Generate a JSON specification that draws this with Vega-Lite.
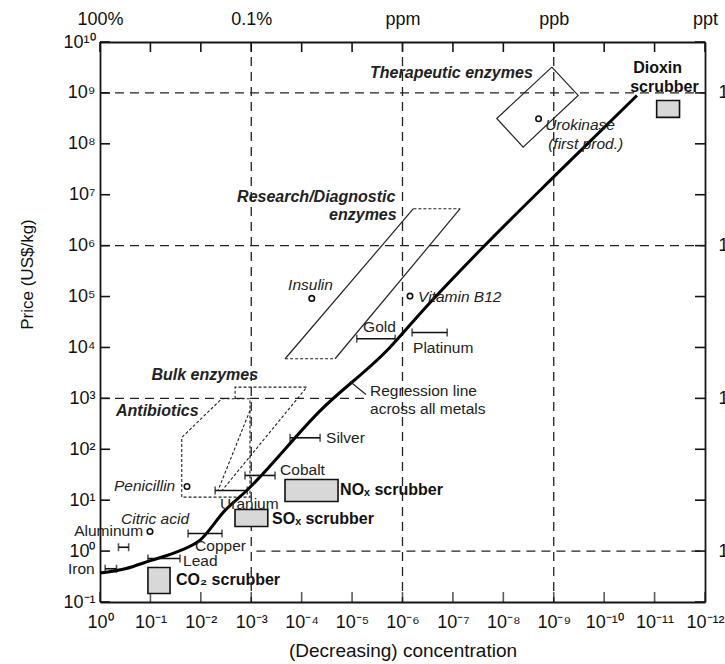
{
  "$schema": "https://vega.github.io/schema/vega-lite/v6.json",
  "width": 605,
  "height": 560,
  "autosize": {"type": "none"},
  "padding": {"left": 100, "top": 42, "right": 20, "bottom": 62},
  "background": "white",
  "config": {
    "view": {"stroke": null},
    "font": "Liberation Sans",
    "axis": {
      "domainColor": "#151515", "domainWidth": 1.8, "ticks": false,
      "labelColor": "#111", "titleColor": "#111", "labelFontSize": 18, "titleFontSize": 18,
      "titleFontWeight": "normal", "grid": false, "labelFlush": false, "labelOverlap": false,
      "labelFont": "Liberation Sans", "titleFont": "Liberation Sans"
    }
  },
  "datasets": {
    "decadesX": [{"c": 1}, {"c": 0.1}, {"c": 0.01}, {"c": 0.001}, {"c": 1e-4}, {"c": 1e-5}, {"c": 1e-6}, {"c": 1e-7}, {"c": 1e-8}, {"c": 1e-9}, {"c": 1e-10}, {"c": 1e-11}, {"c": 1e-12}],
    "decadesY": [{"p": 0.1}, {"p": 1}, {"p": 10}, {"p": 100}, {"p": 1000}, {"p": 1e4}, {"p": 1e5}, {"p": 1e6}, {"p": 1e7}, {"p": 1e8}, {"p": 1e9}, {"p": 1e10}],
    "gridX": [{"c": 1e-3}, {"c": 1e-6}, {"c": 1e-9}],
    "gridY": [
      {"p": 1, "c1": 7.9e-4, "c2": 1e-12},
      {"p": 1e3, "c1": 1, "c2": 5.0e-6},
      {"p": 1e6, "c1": 1, "c2": 1e-12},
      {"p": 1e9, "c1": 1, "c2": 1e-12}
    ],
    "curve": [
      {"c": 1, "p": 0.37}, {"c": 0.316, "p": 0.45}, {"c": 0.1, "p": 0.65}, {"c": 0.0257, "p": 1.02},
      {"c": 0.0105, "p": 1.62}, {"c": 0.00331, "p": 6.3}, {"c": 0.00123, "p": 15.5},
      {"c": 4.27e-5, "p": 575}, {"c": 1.78e-6, "p": 1.0e4}, {"c": 3.9e-7, "p": 5.4e4},
      {"c": 2.9e-8, "p": 8.1e5}, {"c": 7.4e-10, "p": 3.0e7}, {"c": 2.24e-11, "p": 8.9e8}
    ],
    "leader": [{"c": 1.1e-5, "p": 2150}, {"c": 5.3e-6, "p": 1193}],
    "solidPaths": [
      {"shape": "therapeutic", "i": 0, "c": 1.09e-9, "p": 3.21e9},
      {"shape": "therapeutic", "i": 1, "c": 3.28e-10, "p": 8.93e8},
      {"shape": "therapeutic", "i": 2, "c": 4.05e-9, "p": 8.61e7},
      {"shape": "therapeutic", "i": 3, "c": 1.35e-8, "p": 3.15e8},
      {"shape": "therapeutic", "i": 4, "c": 1.09e-9, "p": 3.21e9},
      {"shape": "researchLeft", "i": 0, "c": 2.13e-4, "p": 6.0e3},
      {"shape": "researchLeft", "i": 1, "c": 6.08e-7, "p": 5.31e6},
      {"shape": "researchRight", "i": 0, "c": 2.17e-5, "p": 6.0e3},
      {"shape": "researchRight", "i": 1, "c": 7.19e-8, "p": 5.31e6}
    ],
    "dottedPaths": [
      {"shape": "researchTop", "i": 0, "c": 6.08e-7, "p": 5.31e6},
      {"shape": "researchTop", "i": 1, "c": 7.19e-8, "p": 5.31e6},
      {"shape": "researchBottom", "i": 0, "c": 2.13e-4, "p": 6.0e3},
      {"shape": "researchBottom", "i": 1, "c": 2.17e-5, "p": 6.0e3},
      {"shape": "antibiotics", "i": 0, "c": 3.85e-3, "p": 982},
      {"shape": "antibiotics", "i": 1, "c": 1.06e-3, "p": 982},
      {"shape": "antibiotics", "i": 2, "c": 1.06e-3, "p": 11.5},
      {"shape": "antibiotics", "i": 3, "c": 2.39e-2, "p": 11.5},
      {"shape": "antibiotics", "i": 4, "c": 2.39e-2, "p": 171},
      {"shape": "antibiotics", "i": 5, "c": 3.85e-3, "p": 982},
      {"shape": "bulk", "i": 0, "c": 2.09e-3, "p": 982},
      {"shape": "bulk", "i": 1, "c": 2.09e-3, "p": 1660},
      {"shape": "bulk", "i": 2, "c": 7.92e-5, "p": 1660},
      {"shape": "bulk", "i": 3, "c": 3.79e-3, "p": 15.5},
      {"shape": "bulk", "i": 4, "c": 4.99e-3, "p": 15.5},
      {"shape": "bulkInner", "i": 0, "c": 1.06e-3, "p": 579},
      {"shape": "bulkInner", "i": 1, "c": 4.56e-3, "p": 15.5}
    ],
    "metals": [
      {"metal": "Iron", "lo": 0.79, "hi": 0.47, "p": 0.45},
      {"metal": "Aluminum", "lo": 0.43, "hi": 0.27, "p": 1.19},
      {"metal": "Lead", "lo": 0.112, "hi": 0.0259, "p": 0.716},
      {"metal": "Copper", "lo": 0.0179, "hi": 0.0038, "p": 2.22},
      {"metal": "Uranium", "lo": 0.0052, "hi": 0.0012, "p": 15.5},
      {"metal": "Cobalt", "lo": 0.00133, "hi": 0.000337, "p": 30.6},
      {"metal": "Silver", "lo": 1.70e-4, "hi": 4.31e-5, "p": 168},
      {"metal": "Gold", "lo": 8.07e-6, "hi": 1.40e-6, "p": 1.48e4},
      {"metal": "Platinum", "lo": 6.45e-7, "hi": 1.30e-7, "p": 1.97e4}
    ],
    "scrubbers": [
      {"name": "NOx", "c1": 2.14e-4, "c2": 1.9e-5, "p1": 25.5, "p2": 9.4},
      {"name": "SOx", "c1": 2.1e-3, "c2": 4.7e-4, "p1": 6.56, "p2": 3.04},
      {"name": "CO2", "c1": 0.112, "c2": 0.0408, "p1": 0.476, "p2": 0.147},
      {"name": "Dioxin", "c1": 9.1e-12, "c2": 3.2e-12, "p1": 7.1e8, "p2": 3.3e8}
    ],
    "products": [
      {"name": "Penicillin", "c": 0.0188, "p": 18.6},
      {"name": "Citric acid", "c": 0.102, "p": 2.43},
      {"name": "Insulin", "c": 6.3e-5, "p": 9.2e4},
      {"name": "Vitamin B12", "c": 7.1e-7, "p": 1.02e5},
      {"name": "Urokinase", "c": 2.0e-9, "p": 3.1e8}
    ],
    "plainLabels": [
      {"t": "Gold", "c": 6.05e-6, "p": 2.47e4},
      {"t": "Platinum", "c": 6.17e-7, "p": 9.55e3},
      {"t": "Regression line", "c": 4.40e-6, "p": 1365},
      {"t": "across all metals", "c": 4.40e-6, "p": 605},
      {"t": "Silver", "c": 3.28e-5, "p": 163},
      {"t": "Cobalt", "c": 2.68e-4, "p": 38.4},
      {"t": "Uranium", "c": 4.16e-3, "p": 8.6},
      {"t": "Copper", "c": 1.30e-2, "p": 1.26},
      {"t": "Lead", "c": 2.25e-2, "p": 0.64},
      {"t": "Aluminum", "c": 3.25, "p": 2.43},
      {"t": "Iron", "c": 4.31, "p": 0.435}
    ],
    "italicLabels": [
      {"t": "Urokinase", "c": 1.48e-9, "p": 2.30e8},
      {"t": "(first prod.)", "c": 1.29e-9, "p": 9.75e7},
      {"t": "Vitamin B12", "c": 4.90e-7, "p": 9.6e4},
      {"t": "Insulin", "c": 1.86e-4, "p": 1.65e5},
      {"t": "Citric acid", "c": 0.383, "p": 4.3},
      {"t": "Penicillin", "c": 0.527, "p": 18.6}
    ],
    "boldItalicLabels": [
      {"t": "Therapeutic enzymes", "c": 4.40e-6, "p": 2.42e9},
      {"t": "Bulk enzymes", "c": 0.0955, "p": 2.82e3},
      {"t": "Research/Diagnostic", "c": 1.91e-3, "p": 8.85e6},
      {"t": "enzymes", "c": 2.86e-5, "p": 3.92e6},
      {"t": "Antibiotics", "c": 0.482, "p": 553}
    ],
    "boldLabels": [
      {"t": "Dioxin", "c": 2.66e-11, "p": 3.03e9},
      {"t": "scrubber", "c": 3.05e-11, "p": 1.28e9},
      {"t": "NOₓ scrubber", "c": 1.73e-5, "p": 15.5},
      {"t": "SOₓ scrubber", "c": 3.87e-4, "p": 4.36},
      {"t": "CO₂ scrubber", "c": 3.10e-2, "p": 0.265}
    ]
  },
  "layer": [
    {
      "data": {"name": "gridX"},
      "mark": {"type": "rule", "strokeDash": [9, 6], "strokeWidth": 1.3, "color": "#222"},
      "encoding": {
        "x": {"field": "c", "type": "quantitative",
          "scale": {"type": "log", "domain": [1e-12, 1], "reverse": true},
          "axis": {"orient": "bottom", "values": [1, 0.1, 0.01, 0.001, 1e-4, 1e-5, 1e-6, 1e-7, 1e-8, 1e-9, 1e-10, 1e-11, 1e-12],
            "labelExpr": "['10⁰','10⁻¹','10⁻²','10⁻³','10⁻⁴','10⁻⁵','10⁻⁶','10⁻⁷','10⁻⁸','10⁻⁹','10⁻¹⁰','10⁻¹¹','10⁻¹²'][round(-log(datum.value)/LN10)]",
            "labelPadding": 11, "title": "(Decreasing) concentration",
            "titleFontSize": 19, "titleY": 48, "titleBaseline": "middle"}}
      }
    },
    {
      "data": {"name": "gridY"},
      "mark": {"type": "rule", "strokeDash": [9, 6], "strokeWidth": 1.3, "color": "#222"},
      "encoding": {
        "y": {"field": "p", "type": "quantitative",
          "scale": {"type": "log", "domain": [0.1, 1e10]},
          "axis": {"orient": "left", "values": [0.1, 1, 10, 100, 1000, 1e4, 1e5, 1e6, 1e7, 1e8, 1e9, 1e10],
            "labelExpr": "['10⁻¹','10⁰','10¹','10²','10³','10⁴','10⁵','10⁶','10⁷','10⁸','10⁹','10¹⁰'][round(log(datum.value)/LN10)+1]",
            "labelPadding": 5, "title": "Price (US$/kg)", "titleFontSize": 17,
            "titleX": -73, "titleY": 232, "titleAngle": -90, "titleAlign": "center", "titleBaseline": "middle"}},
        "x": {"field": "c1", "type": "quantitative", "axis": null},
        "x2": {"field": "c2"}
      }
    },
    {
      "data": {"name": "solidPaths"},
      "mark": {"type": "line", "color": "#222", "strokeWidth": 1.2},
      "encoding": {
        "x": {"field": "c", "type": "quantitative",
          "scale": {"type": "log", "domain": [1e-12, 1], "reverse": true},
          "axis": {"orient": "top", "values": [1, 0.1, 0.01, 0.001, 1e-4, 1e-5, 1e-6, 1e-7, 1e-8, 1e-9, 1e-10, 1e-11, 1e-12],
            "labelExpr": "['100%','','','0.1%','','','ppm','','','ppb','','','ppt'][round(-log(datum.value)/LN10)]",
            "labelPadding": 14, "title": null}},
        "y": {"field": "p", "type": "quantitative",
          "scale": {"type": "log", "domain": [0.1, 1e10]},
          "axis": {"orient": "right", "values": [0.1, 1, 10, 100, 1000, 1e4, 1e5, 1e6, 1e7, 1e8, 1e9, 1e10],
            "labelExpr": "['','1','','','1','','','1','','','1',''][round(log(datum.value)/LN10)+1]",
            "labelPadding": 13, "title": null}},
        "detail": {"field": "shape"},
        "order": {"field": "i"}
      }
    },
    {
      "data": {"values": [{"tc": 1}, {"tc": 0.1}, {"tc": 0.01}, {"tc": 0.001}, {"tc": 1e-4}, {"tc": 1e-5}, {"tc": 1e-6}, {"tc": 1e-7}, {"tc": 1e-8}, {"tc": 1e-9}, {"tc": 1e-10}, {"tc": 1e-11}, {"tc": 1e-12}]},
      "mark": {"type": "rule", "color": "#151515", "strokeWidth": 1.6},
      "encoding": {
        "x": {"field": "tc", "type": "quantitative", "axis": null},
        "y": {"datum": 1e10, "type": "quantitative", "axis": null},
        "y2": {"datum": 6.36e9}
      }
    },
    {
      "data": {"name": "decadesX"},
      "mark": {"type": "tick", "orient": "vertical", "color": "#151515", "thickness": 1.6, "size": 10, "yOffset": -5},
      "encoding": {
        "x": {"field": "c", "type": "quantitative", "axis": null},
        "y": {"datum": 0.1, "type": "quantitative", "axis": null}
      }
    },
    {
      "data": {"name": "decadesY"},
      "mark": {"type": "rule", "color": "#151515", "strokeWidth": 1.6},
      "encoding": {
        "y": {"field": "p", "type": "quantitative", "axis": null},
        "x": {"datum": 1, "type": "quantitative", "axis": null},
        "x2": {"datum": 0.634}
      }
    },
    {
      "data": {"name": "decadesY"},
      "mark": {"type": "rule", "color": "#151515", "strokeWidth": 1.6},
      "encoding": {
        "y": {"field": "p", "type": "quantitative", "axis": null},
        "x": {"datum": 1e-12, "type": "quantitative", "axis": null},
        "x2": {"datum": 1.58e-12}
      }
    },
    {
      "data": {"name": "dottedPaths"},
      "mark": {"type": "line", "color": "#222", "strokeWidth": 1.1, "strokeDash": [3, 2]},
      "encoding": {
        "x": {"field": "c", "type": "quantitative", "axis": null},
        "y": {"field": "p", "type": "quantitative", "axis": null},
        "detail": {"field": "shape"},
        "order": {"field": "i"}
      }
    },
    {
      "data": {"name": "scrubbers"},
      "mark": {"type": "rect", "fill": "#d8d8d8", "stroke": "#111", "strokeWidth": 1.6},
      "encoding": {
        "x": {"field": "c1", "type": "quantitative", "axis": null},
        "x2": {"field": "c2"},
        "y": {"field": "p1", "type": "quantitative", "axis": null},
        "y2": {"field": "p2"}
      }
    },
    {
      "data": {"name": "curve"},
      "mark": {"type": "line", "color": "#000", "strokeWidth": 3, "interpolate": "monotone"},
      "encoding": {
        "x": {"field": "c", "type": "quantitative", "axis": null},
        "y": {"field": "p", "type": "quantitative", "axis": null}
      }
    },
    {
      "data": {"name": "leader"},
      "mark": {"type": "line", "color": "#222", "strokeWidth": 1.2},
      "encoding": {
        "x": {"field": "c", "type": "quantitative", "axis": null},
        "y": {"field": "p", "type": "quantitative", "axis": null}
      }
    },
    {
      "data": {"name": "metals"},
      "mark": {"type": "rule", "color": "#111", "strokeWidth": 1.6},
      "encoding": {
        "x": {"field": "lo", "type": "quantitative", "axis": null},
        "x2": {"field": "hi"},
        "y": {"field": "p", "type": "quantitative", "axis": null}
      }
    },
    {
      "data": {"name": "metals"},
      "mark": {"type": "tick", "orient": "vertical", "color": "#111", "size": 8, "thickness": 1.6},
      "encoding": {
        "x": {"field": "lo", "type": "quantitative", "axis": null},
        "y": {"field": "p", "type": "quantitative", "axis": null}
      }
    },
    {
      "data": {"name": "metals"},
      "mark": {"type": "tick", "orient": "vertical", "color": "#111", "size": 8, "thickness": 1.6},
      "encoding": {
        "x": {"field": "hi", "type": "quantitative", "axis": null},
        "y": {"field": "p", "type": "quantitative", "axis": null}
      }
    },
    {
      "data": {"name": "products"},
      "mark": {"type": "point", "filled": false, "stroke": "#111", "strokeWidth": 1.6, "size": 30, "opacity": 1},
      "encoding": {
        "x": {"field": "c", "type": "quantitative", "axis": null},
        "y": {"field": "p", "type": "quantitative", "axis": null}
      }
    },
    {
      "data": {"name": "plainLabels"},
      "mark": {"type": "text", "align": "left", "baseline": "middle", "fontSize": 15.5, "color": "#222"},
      "encoding": {
        "x": {"field": "c", "type": "quantitative", "axis": null},
        "y": {"field": "p", "type": "quantitative", "axis": null},
        "text": {"field": "t"}
      }
    },
    {
      "data": {"name": "italicLabels"},
      "mark": {"type": "text", "align": "left", "baseline": "middle", "fontSize": 15.5, "fontStyle": "italic", "color": "#222"},
      "encoding": {
        "x": {"field": "c", "type": "quantitative", "axis": null},
        "y": {"field": "p", "type": "quantitative", "axis": null},
        "text": {"field": "t"}
      }
    },
    {
      "data": {"name": "boldItalicLabels"},
      "mark": {"type": "text", "align": "left", "baseline": "middle", "fontSize": 16, "fontStyle": "italic", "fontWeight": "bold", "color": "#222"},
      "encoding": {
        "x": {"field": "c", "type": "quantitative", "axis": null},
        "y": {"field": "p", "type": "quantitative", "axis": null},
        "text": {"field": "t"}
      }
    },
    {
      "data": {"name": "boldLabels"},
      "mark": {"type": "text", "align": "left", "baseline": "middle", "fontSize": 16, "fontWeight": "bold", "color": "#111"},
      "encoding": {
        "x": {"field": "c", "type": "quantitative", "axis": null},
        "y": {"field": "p", "type": "quantitative", "axis": null},
        "text": {"field": "t"}
      }
    }
  ],
  "resolve": {"axis": {"x": "independent", "y": "independent"}}
}
